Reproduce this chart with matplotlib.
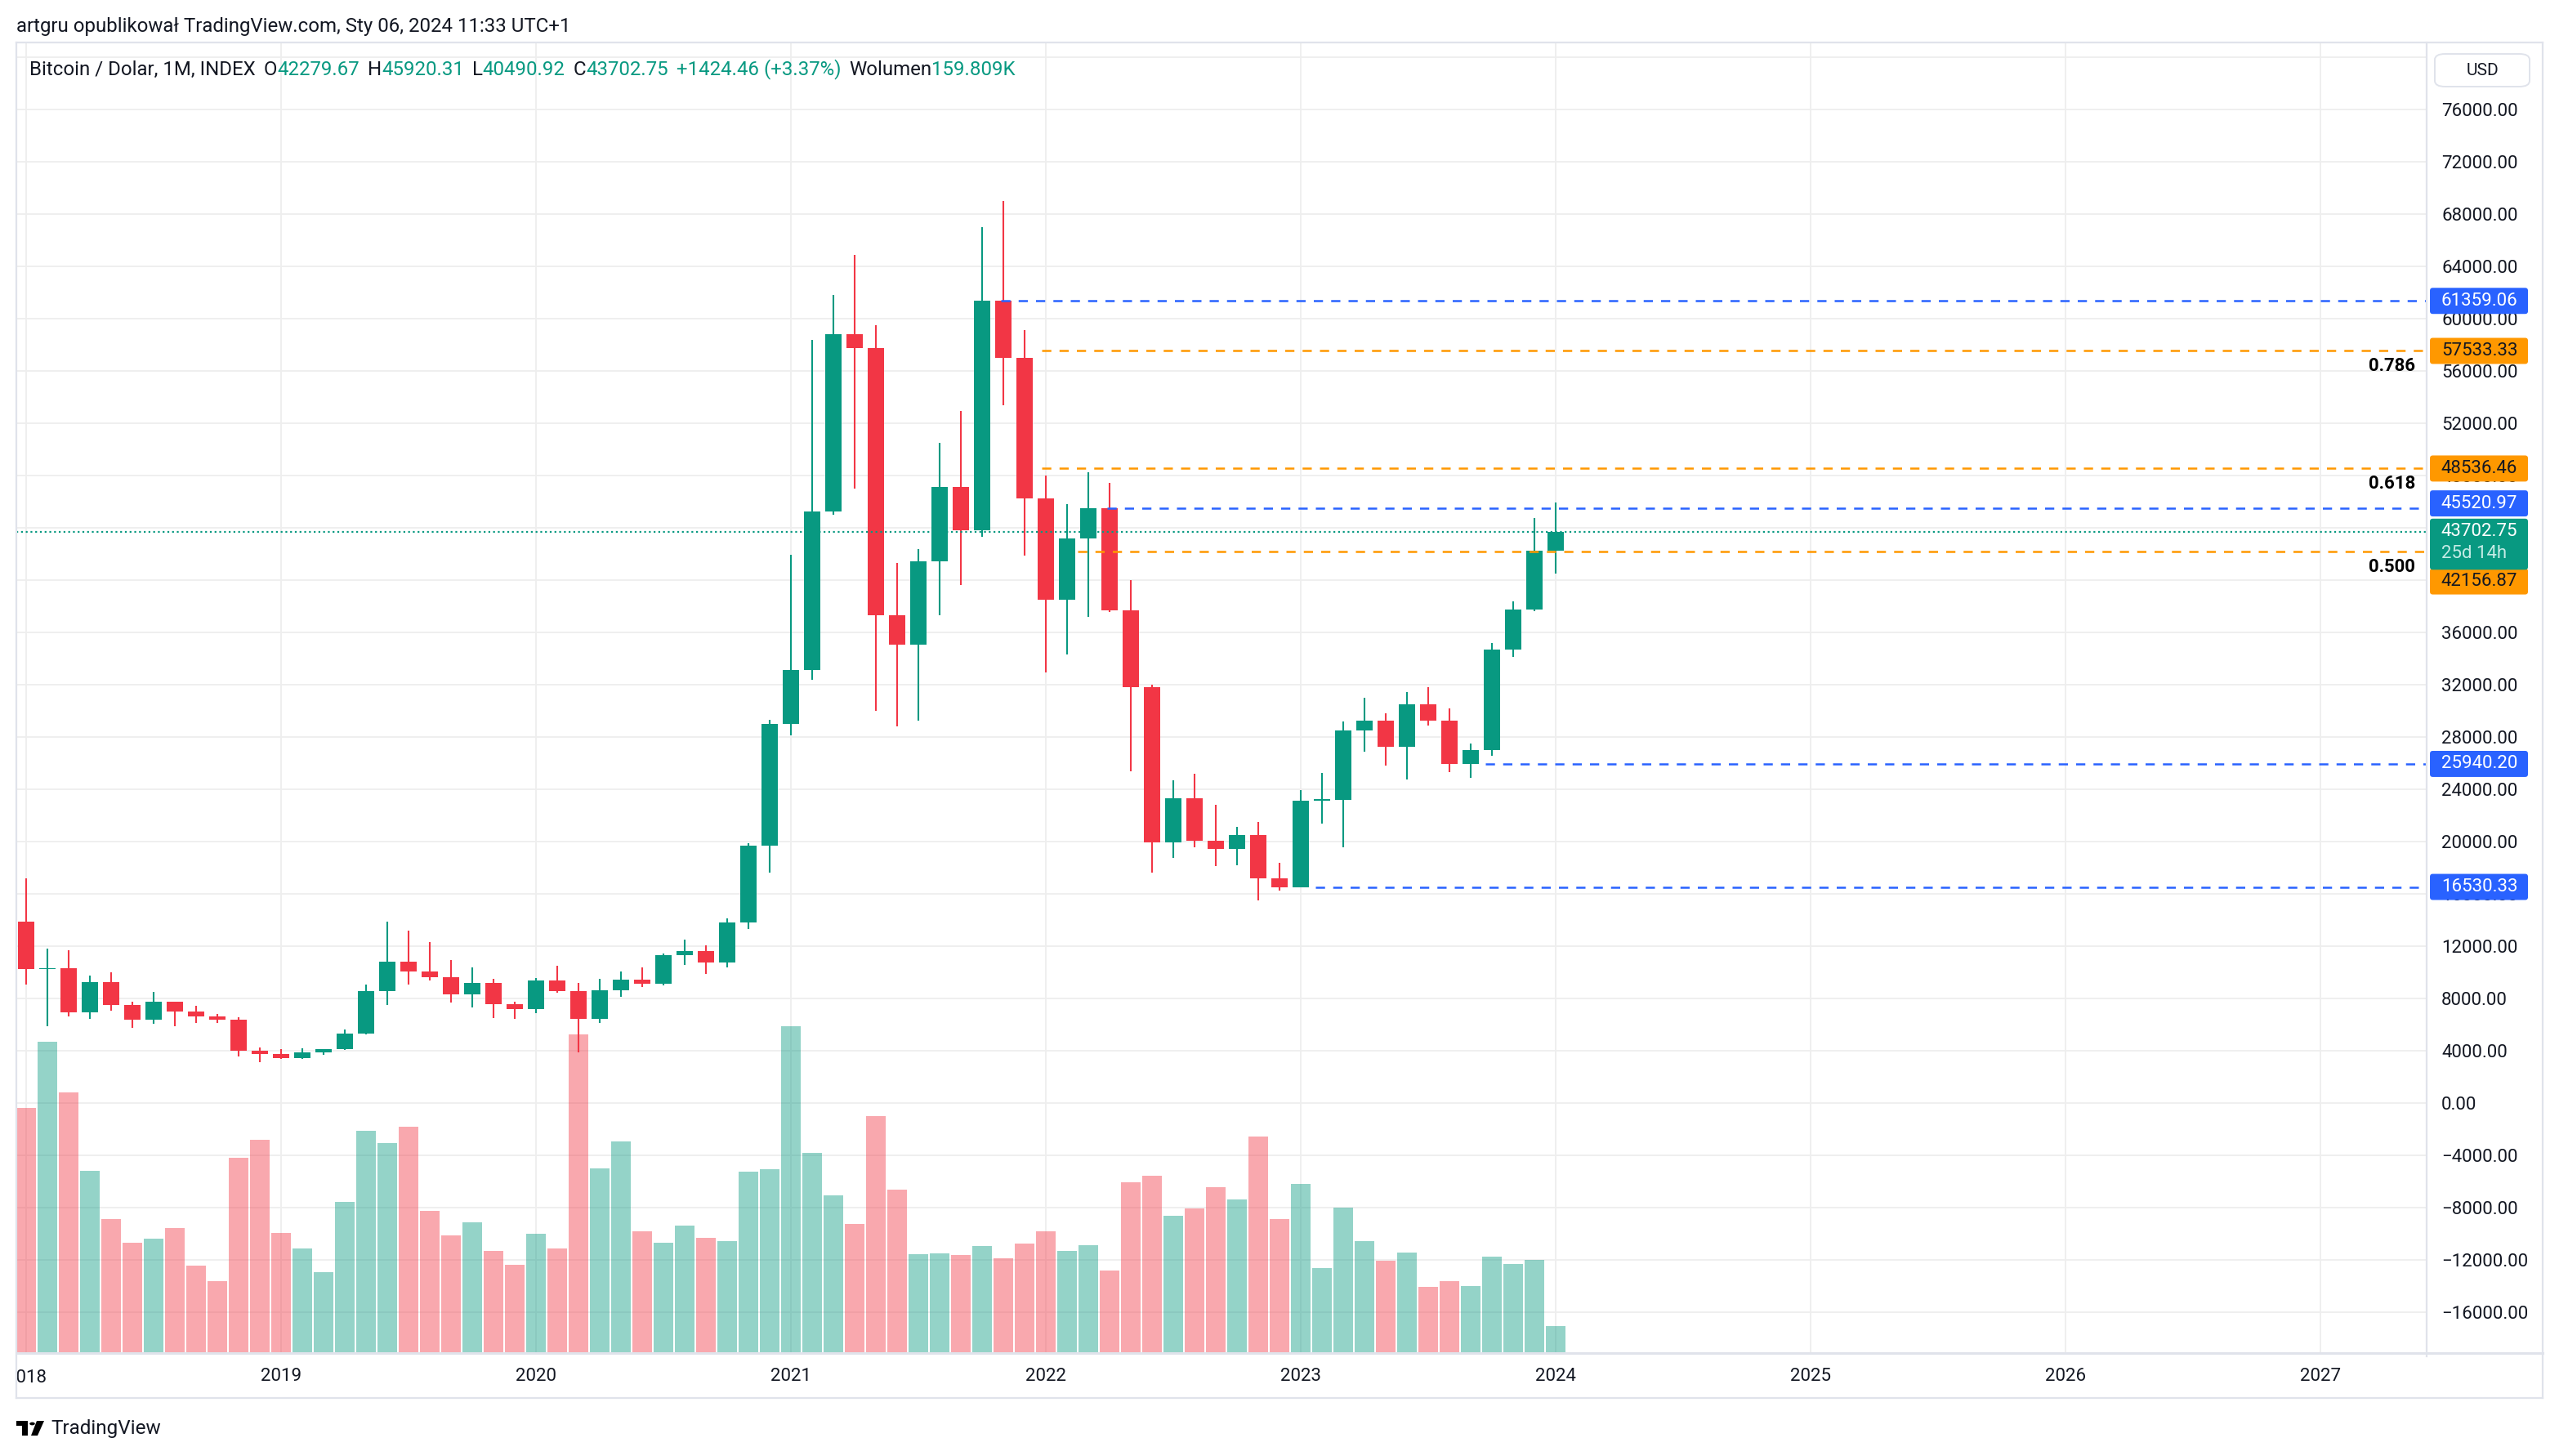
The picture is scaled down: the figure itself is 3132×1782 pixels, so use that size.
import numpy as np
import matplotlib
matplotlib.use('Agg')
import matplotlib.pyplot as plt
from matplotlib.patches import FancyBboxPatch, Rectangle, Circle, Polygon
from matplotlib.lines import Line2D
from matplotlib.transforms import (blended_transform_factory, Affine2D,
                                   ScaledTranslation, Bbox, TransformedBbox)

plt.rcParams['font.family'] = ['Roboto', 'DejaVu Sans']

# ---------------- data (monthly BTC/USD, Jan 2018 .. Jan 2024) ----------------
start_year = 2018
opens = [13880, 10221, 10326, 6926, 9246, 7494, 6391, 7730, 7025, 6626, 6371, 4017,
         3742, 3458, 3854, 4103, 5320, 8574, 10817, 10085, 9600, 8293, 9199, 7557,
         7193, 9350, 8543, 6424, 8624, 9446, 9135, 11335, 11650, 10780, 13800, 19700,
         28990, 33110, 45240, 58800, 57750, 37330, 35040, 41460, 47130, 43820, 61359.06, 57000,
         46220, 38480, 43180, 45520.97, 37710, 31800, 19940, 23300, 20060, 19440, 20500, 17170,
         16530.33, 23140, 23160, 28470, 29250, 27220, 30480, 29240, 25940.20, 26970, 34660, 37720,
         42279.67]
highs = [17176, 11789, 11700, 9759, 10020, 7760, 8507, 7750, 7410, 6830, 6540, 4250,
         4110, 4190, 4150, 5600, 9090, 13880, 13200, 12330, 10920, 10370, 9510, 7750,
         9580, 10500, 9190, 9470, 10080, 10400, 11450, 12470, 12070, 14100, 19850, 29300,
         41950, 58350, 61790, 64900, 59500, 41330, 42400, 50500, 52920, 67000, 69000, 59100,
         47990, 45820, 48240, 47450, 40000, 31990, 24670, 25200, 22800, 21100, 21480, 18400,
         23960, 25250, 29190, 31020, 29840, 31440, 31820, 30200, 27500, 35200, 38400, 44750,
         45920.31]
lows = [9035, 5873, 6600, 6430, 7034, 5755, 6070, 5880, 6100, 6100, 3550, 3156,
        3350, 3370, 3690, 4070, 5250, 7470, 9070, 9360, 7710, 7300, 6520, 6430,
        6860, 8450, 3850, 6150, 8110, 8900, 8970, 10560, 9880, 10400, 13300, 17600,
        28130, 32400, 45000, 47000, 30000, 28800, 29280, 37330, 39600, 43300, 53400, 41900,
        32950, 34320, 37180, 37580, 25400, 17600, 18780, 19540, 18140, 18200, 15500, 16270,
        16530, 21400, 19570, 26900, 25800, 24780, 28860, 25320, 24900, 26560, 34100, 37600,
        40490.92]
closes = [10221, 10326, 6926, 9246, 7494, 6391, 7730, 7025, 6626, 6371, 4017, 3742,
          3458, 3854, 4103, 5320, 8574, 10817, 10085, 9600, 8293, 9199, 7557, 7193,
          9350, 8543, 6424, 8624, 9446, 9135, 11335, 11650, 10780, 13800, 19700, 28990,
          33110, 45240, 58800, 57750, 37330, 35040, 41460, 47130, 43820, 61359.06, 57000, 46220,
          38480, 43180, 45520.97, 37710, 31800, 19940, 23300, 20060, 19440, 20500, 17170, 16530.33,
          23140, 23160, 28470, 29250, 27220, 30480, 29240, 25940.20, 26970, 34660, 37720, 42279.67,
          43702.75]
volume_k = [1494, 1898, 1588, 1109, 814, 669, 694, 759, 529, 435, 1189, 1299,
            729, 634, 490, 919, 1354, 1279, 1379, 864, 714, 794, 619, 534,
            724, 634, 1943, 1124, 1289, 739, 669, 774, 699, 679, 1104, 1119,
            1993, 1219, 959, 784, 1444, 994, 599, 604, 594, 649, 574, 664,
            739, 619, 654, 500, 1039, 1079, 834, 879, 1009, 934, 1319, 814,
            1029, 514, 884, 679, 559, 609, 400, 435, 405, 584, 539, 564,
            159.809]
year_labels = ['2018', '2019', '2020', '2021', '2022', '2023', '2024', '2025', '2026', '2027']

level_prices = [61359.06, 57533.33, 48536.46, 45520.97, 42156.87, 25940.20, 16530.33]
level_kinds = ['blue', 'orange', 'orange', 'blue', 'orange', 'blue', 'blue']
level_start = [45.9, 47.8, 47.8, 50.9, 49.5, 68.7, 60.7]
fib_ratios = ['0.786', '0.618', '0.500']
fib_prices = [57533.33, 48536.46, 42156.87]
last_price = 43702.75
countdown = '25d 14h'
change_text = '+1424.46 (+3.37%)'

price_ticks = list(range(-16000, 80001, 4000))

# ---------------- style ----------------
GREEN, RED = '#089981', '#F23645'
BLUE, ORANGE = '#2962FF', '#FF9800'
DARK = '#131722'
FRAME = '#e0e3eb'
GRID = '#eeeeee'
FS = 16
FS_HEAD = 17.3

W, H = 3132, 1782
fig = plt.figure(figsize=(W / 100, H / 100), dpi=100)
fig.patch.set_facecolor('white')


def fx(x):
    return x / W


def fy(y):
    return 1 - y / H


PANE_L, PANE_R, PANE_T, PANE_B = 20, 2970, 52, 1655
ax = fig.add_axes([fx(PANE_L), fy(PANE_B), (PANE_R - PANE_L) / W, (PANE_B - PANE_T) / H])
ax.set_facecolor('white')
for s in ax.spines.values():
    s.set_visible(False)

x = np.arange(len(opens))
o = np.array(opens, float)
h = np.array(highs, float)
l = np.array(lows, float)
c = np.array(closes, float)
up = c >= o
cols = np.where(up, GREEN, RED)

# volume overlay (own scale in the bottom of the pane)
VOL_AXIS_MAX = 8000.0
vol_trans = blended_transform_factory(ax.transData,
                                      Affine2D().scale(1.0, 1.0 / VOL_AXIS_MAX) + ax.transAxes)
ax.bar(x, volume_k, width=0.92, bottom=0, color=cols, alpha=0.43,
       linewidth=0, transform=vol_trans, zorder=1)

# candles
ax.vlines(x, l, h, colors=cols, linewidth=1.5, zorder=3)
ax.bar(x, np.maximum(np.abs(c - o), 110), bottom=np.minimum(o, c), width=0.75,
       color=cols, linewidth=0, zorder=4)

# horizontal levels
XMAX = 113.0
for p, k, s0 in zip(level_prices, level_kinds, level_start):
    ax.hlines(p, s0, XMAX, colors=BLUE if k == 'blue' else ORANGE, linewidth=1.8,
              linestyles=(0, (4.5, 4)), zorder=5)
ax.axhline(last_price, color=GREEN, linewidth=1.6, linestyle=(0, (1, 1.6)), zorder=5)

ax.set_xlim(-0.4615, XMAX)
ax.set_ylim(-19062.5, 81125)

# grid / ticks
ax.set_axisbelow(True)
ax.set_yticks(price_ticks)
ax.set_yticklabels([('' if v == 80000 else f'{v:.2f}'.replace('-', '\u2212')) for v in price_ticks])
ax.yaxis.tick_right()
ax.tick_params(axis='y', length=0, pad=13, labelsize=FS, labelcolor=DARK)
ax.set_xticks(np.arange(0, 12 * len(year_labels), 12))
ax.set_xticklabels([''] + year_labels[1:])
ax.tick_params(axis='x', length=0, pad=13.5, labelsize=FS, labelcolor=DARK)
ax.grid(True, color=GRID, linewidth=1.3)

# fib ratio texts
for r, p in zip(fib_ratios, fib_prices):
    ax.annotate(r, xy=(0.9953, p), xycoords=('axes fraction', 'data'),
                xytext=(0, -13.5), textcoords='offset points', ha='right', va='center',
                fontsize=FS, fontweight='bold', color='black', zorder=6)

# 2018 label clipped at pane edge
t2018 = fig.text(fx(32), fy(1687), year_labels[0], ha='center', va='center',
                 fontsize=FS, color=DARK)
t2018.set_clip_box(TransformedBbox(Bbox([[fx(PANE_L), 0], [1, 1]]), fig.transFigure))
t2018.set_clip_on(True)

# price tags on the right scale
tag_base = blended_transform_factory(ax.transAxes, ax.transData)


def tag_T(price):
    return Affine2D().scale(1 / 72.) + fig.dpi_scale_trans + ScaledTranslation(1.0, price, tag_base)


def price_tag(price, text, fc, tc, dy=0.0, top=11.5, bottom=-11.5, text2=None, tc2=None):
    T = tag_T(price)
    box = FancyBboxPatch((2.9, dy + bottom), 86.4, top - bottom,
                         boxstyle='round,pad=0,rounding_size=2.5', fc=fc, ec='none',
                         transform=T, clip_on=False, zorder=20)
    ax.add_artist(box)
    ax.text(12.9, dy, text, transform=T, ha='left', va='center', fontsize=FS,
            color=tc, clip_on=False, zorder=21)
    if text2:
        ax.text(12.9, dy - 19.5, text2, transform=T, ha='left', va='center', fontsize=FS,
                color=tc2, clip_on=False, zorder=21)


tag_specs = {
    61359.06: (BLUE, 'white', 0.0),
    57533.33: (ORANGE, DARK, 0.0),
    48536.46: (ORANGE, DARK, 0.0),
    45520.97: (BLUE, 'white', 4.0),
    42156.87: (ORANGE, DARK, -26.0),
    25940.20: (BLUE, 'white', 0.0),
    16530.33: (BLUE, 'white', 0.0),
}
for p in level_prices:
    fc, tc, dy = tag_specs[p]
    price_tag(p, f'{p:.2f}', fc, tc, dy)
price_tag(last_price, f'{last_price:.2f}', GREEN, 'white', 0.0, top=11.5, bottom=-33.5,
          text2=countdown, tc2='#c4ebe5')

# frame lines
def fline(x0, y0, x1, y1, lw=1.6, color=FRAME):
    fig.add_artist(Line2D([fx(x0), fx(x1)], [fy(y0), fy(y1)], transform=fig.transFigure,
                          color=color, linewidth=lw, zorder=30))


fline(PANE_L, PANE_T, 3112, PANE_T)
fline(PANE_L, PANE_T, PANE_L, 1711)
fline(3112, PANE_T, 3112, 1711)
fline(PANE_L, 1711, 3112, 1711)
fline(PANE_L, 1656, 3112, 1656, lw=2.2)
fline(PANE_R, PANE_T, PANE_R, 1660)

# USD box
fig.add_artist(FancyBboxPatch((fx(2980), fy(106)), fx(116), 40 / H,
                              boxstyle='round,pad=0,rounding_size=0.004', fc='white',
                              ec=FRAME, lw=1.4, transform=fig.transFigure, zorder=31))
fig.text(fx(3038), fy(87), 'USD', ha='center', va='center', fontsize=15, color=DARK, zorder=32)

# header
fig.text(fx(20), fy(32), 'artgru opublikował TradingView.com, Sty 06, 2024 11:33 UTC+1',
         ha='left', va='center', fontsize=FS_HEAD, color=DARK)

# legend line
renderer = fig.canvas.get_renderer()
pieces = [
    ('Bitcoin / Dolar, 1M, INDEX', DARK, 10),
    ('O', DARK, 0), (f'{opens[-1]:.2f}', GREEN, 10),
    ('H', DARK, 0), (f'{highs[-1]:.2f}', GREEN, 10),
    ('L', DARK, 0), (f'{lows[-1]:.2f}', GREEN, 10),
    ('C', DARK, 0), (f'{closes[-1]:.2f}', GREEN, 10),
    (change_text, GREEN, 10),
    ('Wolumen', DARK, 0), (f'{volume_k[-1]:.3f}K', GREEN, 0),
]
xp = 36
for s, col, gap in pieces:
    t = fig.text(fx(xp), fy(85), s, ha='left', va='center', fontsize=FS_HEAD, color=col)
    bb = t.get_window_extent(renderer)
    xp = bb.x1 + gap

# TradingView logo (bottom-left)
fig.add_artist(Rectangle((fx(20), fy(1745)), fx(14), 6 / H, transform=fig.transFigure,
                         fc='black', ec='none'))
fig.add_artist(Rectangle((fx(27), fy(1757)), fx(7), 18 / H, transform=fig.transFigure,
                         fc='black', ec='none'))
fig.add_artist(Circle((fx(39.5), fy(1742.5)), 3.3 / W, transform=fig.transFigure,
                      fc='black', ec='none'))
fig.add_artist(Polygon([(fx(45), fy(1739)), (fx(54), fy(1739)), (fx(46), fy(1757)),
                        (fx(38), fy(1757))], closed=True, transform=fig.transFigure,
                       fc='black', ec='none'))
fig.text(fx(62), fy(1748), 'TradingView', ha='left', va='center', fontsize=17.5, color=DARK)

fig.savefig('out.png', dpi=100, facecolor='white')
